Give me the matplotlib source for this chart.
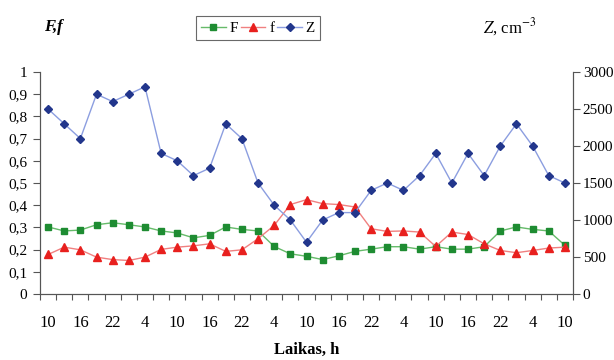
import matplotlib
matplotlib.use("Agg")
import matplotlib.pyplot as plt
import numpy as np
from matplotlib.ticker import FixedLocator, FuncFormatter

plt.rcParams['font.family'] = ['Liberation Serif', 'DejaVu Serif']

hour_labels = ["10", "16", "22", "4", "10", "16", "22", "4", "10", "16", "22", "4",
               "10", "16", "22", "4", "10"]

F = [0.302, 0.284, 0.288, 0.312, 0.321, 0.312, 0.302, 0.284, 0.275, 0.253, 0.264,
     0.302, 0.291, 0.284, 0.214, 0.181, 0.170, 0.155, 0.172, 0.192, 0.202, 0.213,
     0.213, 0.202, 0.213, 0.202, 0.202, 0.213, 0.284, 0.302, 0.291, 0.284, 0.219]
f = [0.178, 0.211, 0.199, 0.166, 0.155, 0.151, 0.166, 0.201, 0.211, 0.217, 0.226,
     0.192, 0.199, 0.249, 0.309, 0.403, 0.425, 0.407, 0.403, 0.392, 0.294, 0.282,
     0.284, 0.279, 0.214, 0.279, 0.268, 0.226, 0.196, 0.186, 0.196, 0.207, 0.211]
Z = [2500, 2300, 2100, 2700, 2600, 2700, 2800, 1900, 1800, 1600, 1700, 2300, 2100,
     1500, 1200, 1000, 700, 1000, 1100, 1100, 1400, 1500, 1400, 1600, 1900, 1500,
     1900, 1600, 2000, 2300, 2000, 1600, 1500]

n = len(F)
x = np.arange(n)

fig = plt.figure(figsize=(6.14, 3.6), dpi=100)
ax = fig.add_axes([40/614, 1-294/360, (573-40)/614, (294-72)/360])
ax2 = ax.twinx()

lF, = ax.plot(x, F, color='#66bb6a', lw=1.0, marker='s', ms=4.3,
              mfc='#1e8c32', mec='#1e8c32', label='F')
lf, = ax.plot(x, f, color='#f08080', lw=1.0, marker='^', ms=5.2,
              mfc='#e8201e', mec='#e8201e', label='f')
lZ, = ax2.plot(x, Z, color='#8c9ee0', lw=1.0, marker='D', ms=3.8,
               mfc='#22368c', mec='#22368c', label='Z')

ax.set_xlim(-0.5, n - 0.5)
ax.set_ylim(0, 1)
ax2.set_ylim(0, 3000)

ax.set_yticks(np.arange(0, 1.01, 0.1))
ax.yaxis.set_major_formatter(FuncFormatter(
    lambda v, p: "0" if abs(v) < 1e-9 else ("1" if abs(v - 1) < 1e-9 else f"{v:.1f}".replace('.', ','))))
ax2.set_yticks(np.arange(0, 3001, 500))

ax.set_xticks(np.arange(-0.5, n, 1.0))
ax.set_xticklabels([])
ax.xaxis.set_minor_locator(FixedLocator(x[::2]))
ax.set_xticklabels(hour_labels, minor=True)
ax.tick_params(axis='x', which='minor', length=0, pad=15, labelsize=12)
ax.tick_params(axis='x', which='major', length=4, direction='out', color='#555555')
ax.tick_params(axis='y', length=5, direction='out', labelsize=11, color='#555555', pad=4)
ax2.tick_params(axis='y', length=5, direction='out', labelsize=11, color='#555555', pad=2)

for a in (ax, ax2):
    a.spines['top'].set_visible(False)
    for s in ('left', 'right', 'bottom'):
        a.spines[s].set_color('#555555')
        a.spines[s].set_linewidth(0.8)

ax.set_xlabel("Laikas, h", fontweight='bold', fontsize=12, labelpad=8)

fig.text(53/614, 1-27/360, "F,f", fontstyle='italic', fontweight='bold', fontsize=12,
         ha='center', va='center')
fig.text(510/614, 1-27/360, r"$Z$, cm$^{-3}$", fontsize=12, ha='center', va='center',
         math_fontfamily='stix')

leg = fig.legend(handles=[lF, lf, lZ], loc='center', bbox_to_anchor=(258/614, 1-28/360),
                 ncol=3, frameon=True, fancybox=False, edgecolor='#444444',
                 handlelength=1.6, handletextpad=0.25, columnspacing=0.2,
                 borderpad=0.35, fontsize=11)
leg.get_frame().set_linewidth(0.8)

fig.savefig("out.png", dpi=100)
